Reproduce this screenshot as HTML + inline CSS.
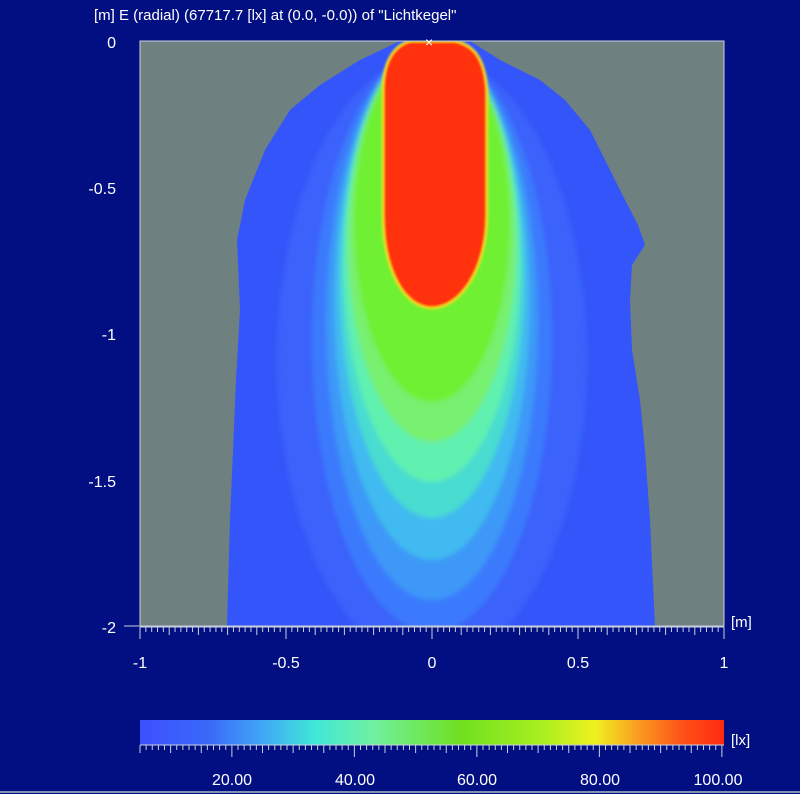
<!DOCTYPE html>
<html><head><meta charset="utf-8"><style>
html,body{margin:0;padding:0;background:#020f82;}
svg{display:block}
text{font-family:"Liberation Sans",sans-serif;fill:#fff;}
</style></head><body>
<svg width="800" height="794" viewBox="0 0 800 794">
<defs>
<clipPath id="shape"><polygon points="400,41 470,41 500,60 540,80 565,100 590,130 610,170 625,200 638,225 645,245 632,265 630,300 632,350 640,400 645,450 650,520 655,626 227,626 230,520 233,450 236,380 240,310 237,240 245,200 265,150 290,110 320,85 360,60"/></clipPath>
<filter id="bl" x="-20%" y="-20%" width="140%" height="140%"><feGaussianBlur stdDeviation="2.5"/></filter>
<filter id="bl2" x="-20%" y="-20%" width="140%" height="140%"><feGaussianBlur stdDeviation="1"/></filter>
<linearGradient id="cb" x1="0" x2="1">
<stop offset="0" stop-color="#3c50ff"/><stop offset="0.12" stop-color="#3a6af8"/>
<stop offset="0.2" stop-color="#40a0f8"/><stop offset="0.3" stop-color="#40e8d8"/>
<stop offset="0.4" stop-color="#70f0a0"/><stop offset="0.55" stop-color="#70e020"/>
<stop offset="0.7" stop-color="#b0f020"/><stop offset="0.78" stop-color="#f0f020"/>
<stop offset="0.85" stop-color="#f8a020"/><stop offset="0.93" stop-color="#ff5018"/>
<stop offset="1" stop-color="#ff2a10"/></linearGradient>
</defs>
<rect x="140" y="41" width="584" height="585" fill="#6f8080"/>
<g clip-path="url(#shape)">
<rect x="140" y="41" width="584" height="585" fill="#3355fa"/>
<g filter="url(#bl)">
<ellipse cx="432" cy="360" rx="155" ry="305" fill="#3a62fb"/>
<ellipse cx="432" cy="340" rx="120" ry="292" fill="#3a7afc"/>
<ellipse cx="432" cy="322" rx="106" ry="278" fill="#3d98f8"/>
<ellipse cx="432" cy="302" rx="98" ry="258" fill="#40baf0"/>
<ellipse cx="432" cy="280" rx="92" ry="238" fill="#48dcd0"/>
<ellipse cx="432" cy="262" rx="88" ry="220" fill="#60f0b0"/>
<ellipse cx="432" cy="242" rx="84" ry="200" fill="#78f070"/>
<ellipse cx="432" cy="222" rx="78" ry="180" fill="#70f030"/>
</g>
<path filter="url(#bl2)" d="M410,41 L455,41 C475,45 485,60 487,90 L487,215 C487,270 460,308 432,308 C404,308 383,270 383,215 L383,90 C383,60 395,45 410,41Z" fill="#ff3010" stroke="#f0e020" stroke-width="2.5"/>
</g>
<rect x="140" y="41" width="584" height="585" fill="none" stroke="#c8d0e0" stroke-width="1"/>
<text x="425" y="47" font-size="14" fill="#fff">×</text>
<text x="94" y="20" font-size="15">[m]  E (radial) (67717.7 [lx] at (0.0, -0.0)) of "Lichtkegel"</text>
<g font-size="16" text-anchor="end">
<text x="116" y="48">0</text><text x="116" y="194">-0.5</text><text x="116" y="340">-1</text><text x="116" y="487">-1.5</text><text x="116" y="633">-2</text>
</g>
<line x1="124" y1="626" x2="140" y2="626" stroke="#c8d0e0"/>
<g id="xt" stroke="#c8d0e0" stroke-width="1"></g>
<g font-size="16" text-anchor="middle">
<text x="140" y="668">-1</text><text x="286" y="668">-0.5</text><text x="432" y="668">0</text><text x="578" y="668">0.5</text><text x="724" y="668">1</text>
</g>
<text x="731" y="627" font-size="15">[m]</text>
<rect x="140" y="720" width="584" height="25" fill="url(#cb)"/>
<g id="ct" stroke="#c8d0e0" stroke-width="1"></g>
<text x="731" y="745" font-size="15">[lx]</text>
<g font-size="16" text-anchor="middle">
<text x="232" y="785">20.00</text><text x="355" y="785">40.00</text><text x="477" y="785">60.00</text><text x="600" y="785">80.00</text><text x="718" y="785">100.00</text>
</g>
<line x1="0" y1="792" x2="800" y2="792" stroke="#8090b0" stroke-width="2"/>
</svg>
<script>
var ns="http://www.w3.org/2000/svg";
function ln(g,x1,y1,x2,y2){var l=document.createElementNS(ns,"line");l.setAttribute("x1",x1);l.setAttribute("y1",y1);l.setAttribute("x2",x2);l.setAttribute("y2",y2);g.appendChild(l);}
var g=document.getElementById("xt");
ln(g,140,627,724,627);
for(var i=0;i<=100;i++){var x=140+i*5.84;var h=(i%25==0)?12:(i%5==0?8:5);ln(g,x,627,x,627+h);}
var c=document.getElementById("ct");
ln(c,140,745,724,745);
for(var i=0;i<=95;i++){var x=140+i*6.125;if(x>724.5)break;var v=5+i;var h=(v%20==0)?12:(v%5==0?8:5);ln(c,x,745,x,745+h);}
</script>
</body></html>
